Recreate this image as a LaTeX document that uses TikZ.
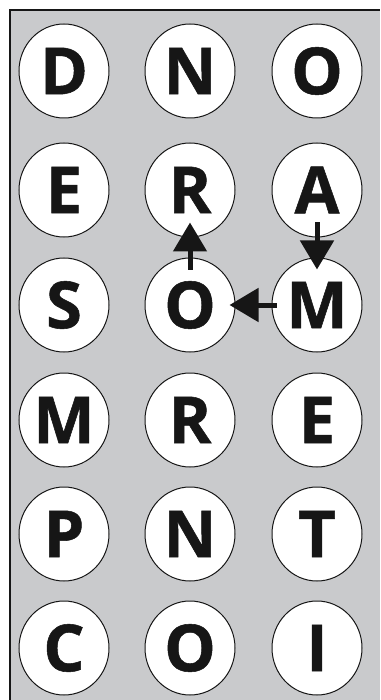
\documentclass[tikz,border=0pt]{standalone}
\usepackage{fontspec}
\setmainfont{Open Sans}[BoldFeatures={FakeBold=0.8}]
\usetikzlibrary{arrows.meta,shapes.geometric}
\definecolor{bggray}{RGB}{201,202,204}
\definecolor{ink}{RGB}{22,22,22}
\tikzset{
  letter/.style={ellipse, draw=ink, line width=1pt, fill=white, inner sep=0pt,
    minimum width=90pt, minimum height=94pt, text=ink,
    font=\fontsize{65}{65}\selectfont\bfseries},
  arr/.style={draw=ink, line width=5pt, -{Triangle[width=33pt,length=29pt]}}
}
\begin{document}
\begin{tikzpicture}[x=1pt,y=-1pt]
\useasboundingbox (0,0) rectangle (380,700);
\fill[bggray] (10,10) rectangle (380,700);
\draw[ink, line width=1.5pt] (10,700) -- (10,10) -- (380,10);
% row 1
\node[letter] (D1) at (64,71) {D};
\node[letter] (N1) at (190,71) {N};
\node[letter] (O1) at (317,71) {O};
% row 2
\node[letter] (E2) at (64,190) {E};
\node[letter] (R2) at (190,190) {R};
\node[letter] (A2) at (317,190) {A};
% row 3
\node[letter] (S3) at (64,305) {S};
\node[letter] (O3) at (190,305) {O};
\node[letter] (M3) at (317,305) {M};
% row 4
\node[letter] (M4) at (64,420) {M};
\node[letter] (R4) at (190,420) {R};
\node[letter] (E4) at (317,420) {E};
% row 5
\node[letter] (P5) at (64,534) {P};
\node[letter] (N5) at (190,534) {N};
\node[letter] (T5) at (317,534) {T};
% row 6
\node[letter] (C6) at (64,648) {C};
\node[letter] (O6) at (190,648) {O};
\node[letter] (I6) at (317,648) {I};
% arrows
\draw[arr] ([yshift=-12pt]O3.north) -- ([yshift=15pt]R2.south);
\draw[arr] ([yshift=15pt]A2.south) -- ([yshift=-12pt]M3.north);
\draw[arr] ([xshift=5pt]M3.west) -- ([xshift=-6pt]O3.east);
\end{tikzpicture}
\end{document}
